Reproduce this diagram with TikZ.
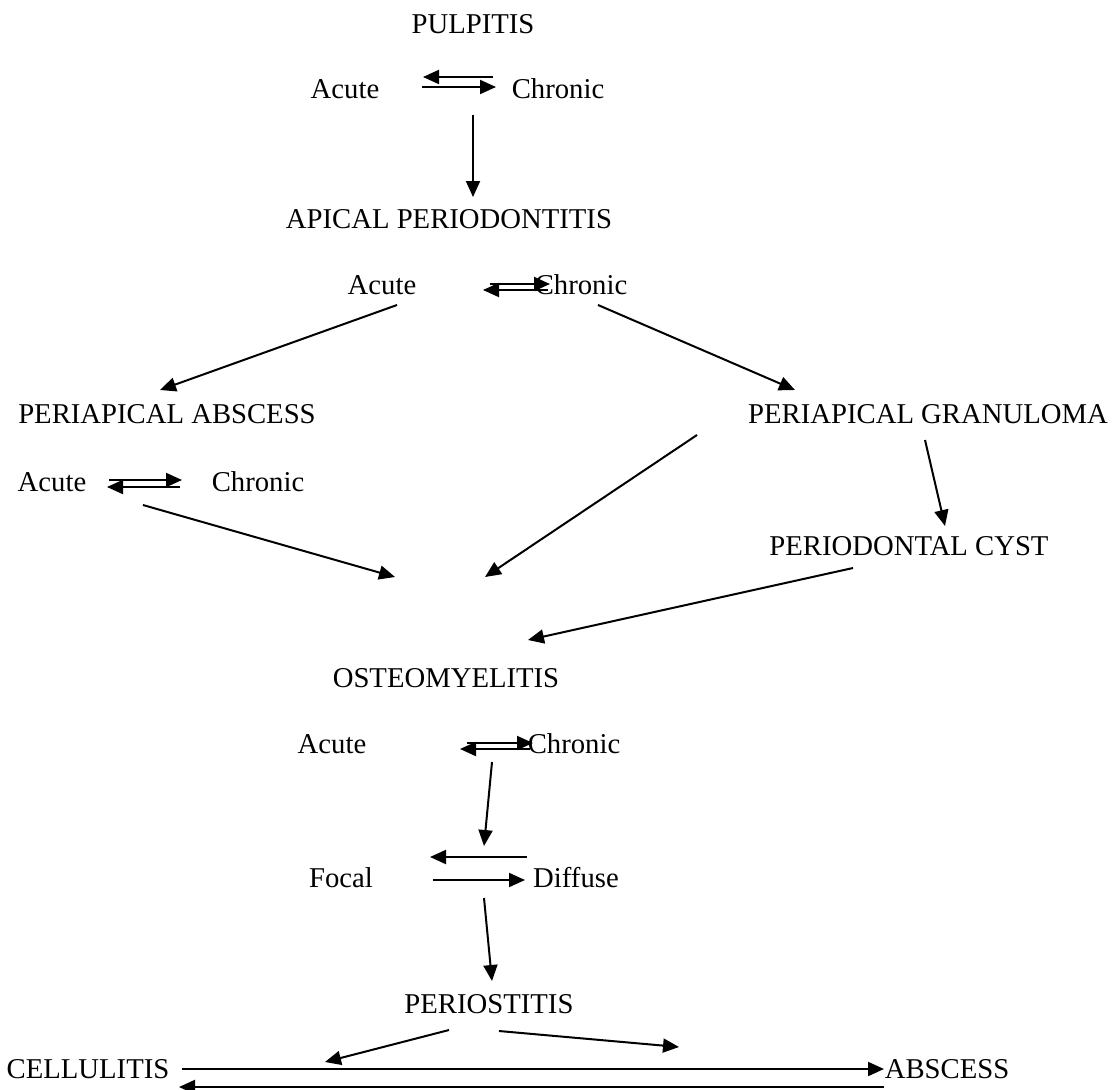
\documentclass[tikz,border=0pt]{standalone}
\usepackage{fontspec}
\setmainfont{Liberation Serif}
\usetikzlibrary{arrows.meta,calc}
\begin{document}
\begin{tikzpicture}[x=1pt,y=-1pt,
  lbl/.style={inner sep=0pt,text height=19pt,text depth=0pt,font=\fontsize{28.7}{30}\selectfont},
  arr/.style={line width=2pt,-{Triangle[length=16pt,width=14pt]}}]
\useasboundingbox (0,0) rectangle (1115,1089);
\fill[white] (0,0) rectangle (1115,1089);
\node[lbl] (pul) at (473,24) {PULPITIS};
\node[lbl] (a1) at (345,89) {Acute};
\node[lbl] (c1) at (558,89) {Chronic};
\node[lbl] (apd) at (449,219) {APICAL PERIODONTITIS};
\node[lbl] (a2) at (382,285) {Acute};
\node[lbl] (c2) at (581,285) {Chronic};
\node[lbl] (pab) at (167,414) {PERIAPICAL ABSCESS};
\node[lbl] (pgr) at (928,414) {PERIAPICAL GRANULOMA};
\node[lbl] (a3) at (52,482) {Acute};
\node[lbl] (c3) at (258,482) {Chronic};
\node[lbl] (cyst) at (909,546) {PERIODONTAL CYST};
\node[lbl] (ost) at (446,678) {OSTEOMYELITIS};
\node[lbl] (a4) at (332,744) {Acute};
\node[lbl] (c4) at (574,744) {Chronic};
\node[lbl] (focal) at (341,878) {Focal};
\node[lbl] (diffuse) at (576,878) {Diffuse};
\node[lbl] (peri) at (489,1004) {PERIOSTITIS};
\node[lbl] (cell) at (88,1069) {CELLULITIS};
\node[lbl] (absc) at (947,1069) {ABSCESS};
\coordinate (rfree) at ($(absc)+(-268,-22)$);
% pulpitis
\draw[arr] ($(c1)+(-65,-12)$) -- ($(a1)+(78,-12)$);
\draw[arr] ($(a1)+(77,-2)$) -- ($(c1)+(-62,-2)$);
\draw[arr] ($(c1)+(-85,26)$) -- ($(apd)+(24,-22)$);
% apical periodontitis
\draw[arr] ($(a2)+(108,-1)$) -- ($(c2)+(-31,-1)$);
\draw[arr] ($(c2)+(-33,5)$) -- ($(a2)+(101,5)$);
\draw[arr] ($(a2)+(15,20)$) -- ($(pab)+(-7,-24)$);
\draw[arr] ($(c2)+(17,20)$) -- ($(pgr)+(-133,-24)$);
% periapical abscess
\draw[arr] ($(a3)+(57,-2)$) -- ($(c3)+(-76,-2)$);
\draw[arr] ($(c3)+(-78,5)$) -- ($(a3)+(55,5)$);
\draw[arr] ($(a3)+(91,23)$) -- ($(ost)+(-51,-101)$);
% granuloma
\draw[arr] ($(pgr)+(-231,21)$) -- ($(ost)+(39,-101)$);
\draw[arr] ($(pgr)+(-3,26)$) -- ($(cyst)+(36,-20)$);
\draw[arr] ($(cyst)+(-56,22)$) -- ($(ost)+(82,-38)$);
% osteomyelitis
\draw[arr] ($(a4)+(135,-1)$) -- ($(c4)+(-41,-1)$);
\draw[arr] ($(c4)+(-44,5)$) -- ($(a4)+(128,5)$);
\draw[arr] ($(c4)+(-82,18)$) -- ($(focal)+(143,-32)$);
% focal / diffuse
\draw[arr] ($(diffuse)+(-49,-21)$) -- ($(focal)+(89,-21)$);
\draw[arr] ($(focal)+(92,2)$) -- ($(diffuse)+(-51,2)$);
\draw[arr] ($(focal)+(143,20)$) -- ($(peri)+(3,-23)$);
% periostitis
\draw[arr] ($(peri)+(-40,26)$) -- ($(cell)+(237,-7)$);
\draw[arr] ($(peri)+(10,27)$) -- (rfree);
\draw[arr] ($(cell)+(94,0)$) -- ($(absc)+(-63,0)$);
\draw[arr] ($(absc)+(-63,18)$) -- ($(cell)+(91,18)$);
\end{tikzpicture}
\end{document}
